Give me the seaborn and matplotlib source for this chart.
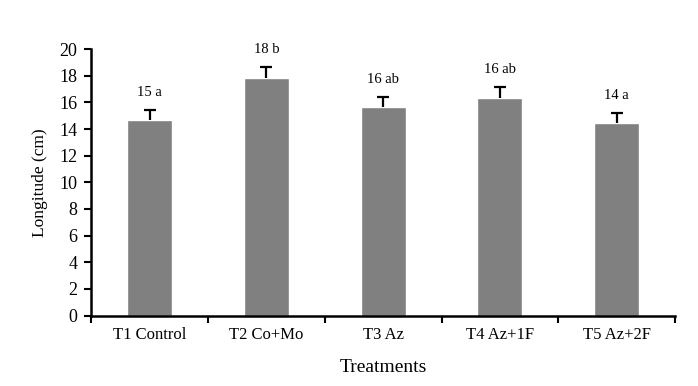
import matplotlib
matplotlib.use("Agg")
import matplotlib.pyplot as plt
import seaborn as sns
import pandas as pd
import numpy as np

treatments = ["T1 Control", "T2 Co+Mo", "T3 Az", "T4 Az+1F", "T5 Az+2F"]
longitude = [14.7, 17.8, 15.65, 16.3, 14.45]
error = [0.7, 0.87, 0.75, 0.87, 0.75]
labels = ["15 a", "18 b", "16 ab", "16 ab", "14 a"]

sns.set_theme(style="white")
plt.rcParams['font.family'] = ['Liberation Serif', 'DejaVu Serif']

df = pd.DataFrame({"Treatments": treatments, "Longitude": longitude})

fig = plt.figure(figsize=(6.98, 3.86), dpi=100)
ax = fig.add_axes([0.131, 0.1826, 0.836, 0.690])

sns.barplot(data=df, x="Treatments", y="Longitude", color="#808080",
            saturation=1, width=0.385, ax=ax, errorbar=None)

x = np.arange(len(treatments))
eb = ax.errorbar(x, longitude, yerr=[np.zeros(len(error)), error], fmt="none",
                 ecolor="black", elinewidth=1.6, capsize=4, capthick=1.6)
# hide the lower caps (plus-only error bars)
caplines = eb.lines[1]
if len(caplines) >= 2:
    caplines[0].set_visible(False)

for xi, v, e, lab in zip(x, longitude, error, labels):
    ax.annotate(lab, (xi, v + e), xytext=(0, 8), textcoords="offset points",
                ha="center", va="bottom", fontsize=10.5, color="black")

ax.set_ylim(0, 20)
ax.set_yticks(range(0, 21, 2))
ax.set_xlim(-0.5, len(treatments) - 0.5)
ax.set_xticks(np.arange(-0.5, len(treatments), 1.0), minor=True)
ax.tick_params(axis="x", which="major", length=0, labelsize=12, pad=8)
ax.tick_params(axis="x", which="minor", bottom=True, length=5, width=1.5,
               color="black", direction="out")
ax.tick_params(axis="y", which="major", left=True, length=5, width=1.5, color="black",
               direction="out", labelsize=13, pad=5)
for lab in ax.get_xticklabels() + ax.get_yticklabels():
    lab.set_color("black")

for side in ["top", "right"]:
    ax.spines[side].set_visible(False)
for side in ["left", "bottom"]:
    ax.spines[side].set_color("black")
    ax.spines[side].set_linewidth(1.8)

ax.set_xlabel("Treatments", fontsize=14, color="black", labelpad=12)
ax.set_ylabel("Longitude (cm)", fontsize=12.5, color="black", labelpad=8)

fig.savefig("out.png", dpi=100)
